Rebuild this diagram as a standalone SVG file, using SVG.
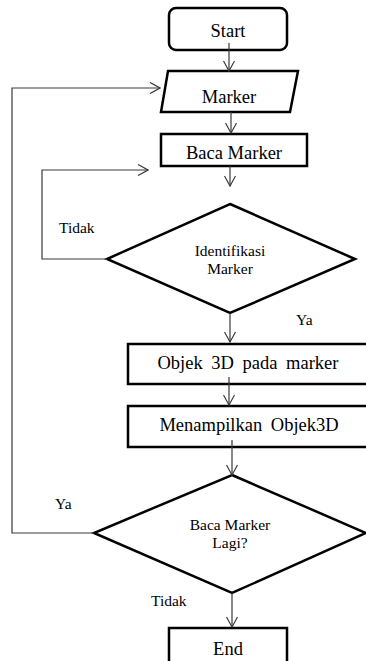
<svg xmlns="http://www.w3.org/2000/svg" width="366" height="661" viewBox="0 0 366 661">
<style>
.s{fill:#fff;stroke:#000;stroke-width:2.5;stroke-linejoin:miter}
.c{fill:none;stroke:#3a3a3a;stroke-width:1.2}
.t{font-family:"Liberation Serif","Times New Roman",serif;fill:#000;text-anchor:middle}
.big{font-size:18.5px}
.sm{font-size:15.5px}
.lbl{font-family:"Liberation Serif","Times New Roman",serif;fill:#000;font-size:15.5px}
</style>
<defs>
<marker id="ah" viewBox="0 0 12 12" refX="11" refY="6" markerWidth="12" markerHeight="12" markerUnits="userSpaceOnUse" orient="auto">
<path d="M1,0.5 L11,6 L1,11.5" fill="none" stroke="#3a3a3a" stroke-width="1.2"/>
</marker>
</defs>
<g id="start"><rect class="s" x="169" y="8" width="118" height="42" rx="7"/><text class="t big" x="228" y="37">Start</text></g>
<g id="marker"><polygon class="s" points="168,71 298,71 290,112 161,112"/><text class="t big" x="229" y="103">Marker</text></g>
<g id="baca"><rect class="s" x="161" y="134" width="146" height="32"/><text class="t big" x="234" y="159">Baca Marker</text></g>
<g id="ident"><polygon class="s" points="230,204 355,259 230,313 107,259"/><text class="t sm" x="230" y="256">Identifikasi</text><text class="t sm" x="230" y="274">Marker</text></g>
<g id="objek"><rect class="s" x="128" y="344" width="245" height="40"/><text class="t big" x="248" y="369" word-spacing="4">Objek 3D pada marker</text></g>
<g id="tampil"><rect class="s" x="128" y="406" width="245" height="41"/><text class="t big" x="249" y="431" word-spacing="4">Menampilkan Objek3D</text></g>
<g id="lagi"><polygon class="s" points="232,475 366,533 232,593 94,533"/><text class="t sm" x="230" y="530">Baca Marker</text><text class="t sm" x="230" y="548">Lagi?</text></g>
<g id="end"><rect class="s" x="169" y="628" width="118" height="40"/><text class="t big" x="228" y="655">End</text></g>
<g id="connectors">
<path class="c" d="M229,43 V71" marker-end="url(#ah)"/>
<path class="c" d="M231,112 V133" marker-end="url(#ah)"/>
<path class="c" d="M230,166 V186" marker-end="url(#ah)"/>
<path class="c" d="M230,313 V342" marker-end="url(#ah)"/>
<path class="c" d="M229,377 V405" marker-end="url(#ah)"/>
<path class="c" d="M232,440 V475" marker-end="url(#ah)"/>
<path class="c" d="M232,593 V627" marker-end="url(#ah)"/>
<path class="c" d="M107,259 H42 V170 H148" marker-end="url(#ah)"/>
<path class="c" d="M94,533 H12 V88 H160" marker-end="url(#ah)"/>
<text class="lbl" x="59" y="233">Tidak</text>
<text class="lbl" x="296" y="325">Ya</text>
<text class="lbl" x="55" y="509">Ya</text>
<text class="lbl" x="151" y="606">Tidak</text>
</g>
</svg>
